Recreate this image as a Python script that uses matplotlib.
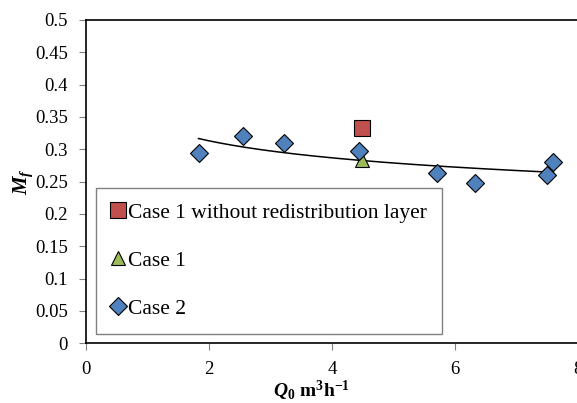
import numpy as np
import matplotlib
matplotlib.use("Agg")
import matplotlib.pyplot as plt

# Data
case2_x = [1.83, 2.56, 3.22, 4.44, 5.70, 6.32, 7.49, 7.60]
case2_y = [0.295, 0.320, 0.310, 0.298, 0.264, 0.248, 0.260, 0.281]
case1_x = [4.48]
case1_y = [0.284]
case1_nr_x = [4.49]
case1_nr_y = [0.333]
xticks = [0, 2, 4, 6, 8]
yticks = [0, 0.05, 0.1, 0.15, 0.2, 0.25, 0.3, 0.35, 0.4, 0.45, 0.5]

plt.rcParams['font.family'] = ['Liberation Serif', 'DejaVu Serif']
plt.rcParams['mathtext.fontset'] = 'custom'
plt.rcParams['mathtext.rm'] = 'Liberation Serif:bold'
plt.rcParams['mathtext.it'] = 'Liberation Serif:italic:bold'
plt.rcParams['mathtext.bf'] = 'Liberation Serif:bold'

fig = plt.figure(figsize=(5.77, 4.03), dpi=100)
ax = fig.add_axes([86/577, 1-343.3/403, 492/577, 323.3/403])

# Power trendline fitted on Case 2 data
lx = np.log(case2_x)
ly = np.log(case2_y)
b, lna = np.polyfit(lx, ly, 1)
xf = np.linspace(min(case2_x), max(case2_x), 200)
ax.plot(xf, np.exp(lna) * xf**b, color='black', lw=1.1, zorder=2)

ax.plot(case1_nr_x, case1_nr_y, 's', ms=11, mfc='#C0504D', mec='black', mew=0.8,
        ls='none', label='Case 1 without redistribution layer', zorder=3)
ax.plot(case1_x, case1_y, '^', ms=10, mfc='#9BBB59', mec='black', mew=0.8,
        ls='none', label='Case 1', zorder=3)
ax.plot(case2_x, case2_y, 'D', ms=9, mfc='#4F81BD', mec='black', mew=0.8,
        ls='none', label='Case 2', zorder=4)

ax.set_xlim(0, 8)
ax.set_ylim(0, 0.5)
ax.set_xticks(xticks)
ax.set_yticks(yticks)
ax.set_yticklabels([f"{v:g}" for v in yticks])
ax.tick_params(axis='both', labelsize=13.5, direction='out', length=5, width=0.8, color='#808080')
ax.tick_params(axis='x', pad=7.5)
ax.tick_params(axis='y', pad=8)
for s in ax.spines.values():
    s.set_linewidth(1.2)
    s.set_color('black')

ax.set_xlabel(r'$Q_{\mathit{0}}\ \mathrm{m^3h^{-1}}$', fontsize=14)
ax.xaxis.set_label_coords((311-86)/492, -0.110)
ax.set_ylabel(r'$M_f$', fontsize=15)
ax.yaxis.set_label_coords(-0.104, 0.5)

leg = ax.legend(loc='lower left', bbox_to_anchor=(0.02, 0.029), fontsize=15.5,
                frameon=True, fancybox=False, labelspacing=1.3, handletextpad=0.15,
                handlelength=0.65, borderpad=0.7, borderaxespad=0)
leg.get_frame().set_edgecolor('#606060')
leg.get_frame().set_linewidth(1.0)

fig.savefig('out.png', dpi=100)
